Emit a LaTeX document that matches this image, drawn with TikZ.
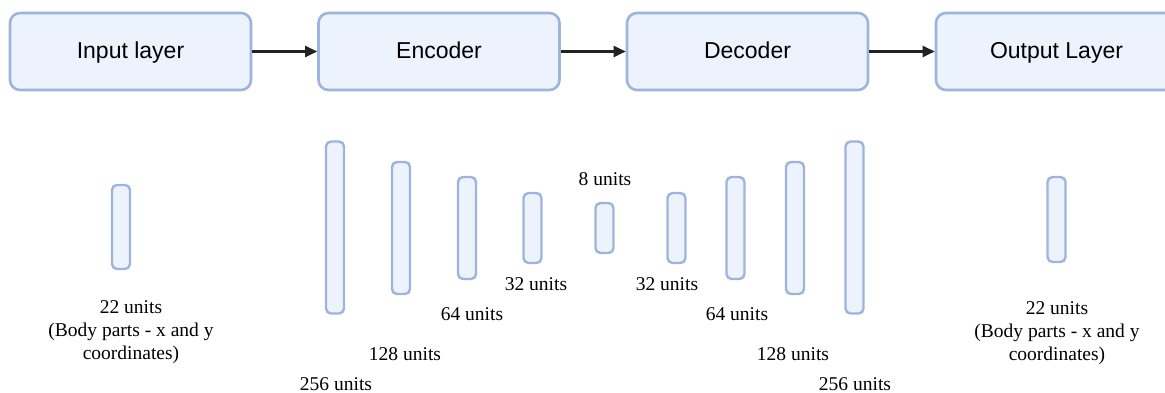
\documentclass[tikz,border=0pt]{standalone}
\usepackage{fontspec}
\setmainfont{Liberation Serif}
\newfontfamily\boxfont{Liberation Sans}
\usetikzlibrary{arrows.meta}
\definecolor{edgeblue}{HTML}{9DB4DD}
\definecolor{fillblue}{HTML}{EDF3FC}
\definecolor{arrowgray}{HTML}{222222}
\tikzset{
  stagebox/.style={draw=edgeblue, fill=fillblue, line width=2.6pt, rounded corners=10pt,
    minimum width=241pt, minimum height=77pt, inner sep=0pt,
    text height=17.5pt, text depth=2.5pt,
    font=\boxfont\fontsize{23}{27}\selectfont},
  unitbar/.style={draw=edgeblue, fill=fillblue, line width=2.4pt, rounded corners=5pt,
    minimum width=18pt, inner sep=0pt},
  unitlabel/.style={inner sep=0pt, align=center, font=\fontsize{19.5}{23}\selectfont},
  flow/.style={draw=arrowgray, line width=2.4pt, -{Triangle[length=12pt,width=11pt]}}
}
\begin{document}
\begin{tikzpicture}[x=1pt,y=-1pt]
\useasboundingbox (0,0) rectangle (1165,393);

% stages
\node[stagebox] (inp) at (130.5,51.5) {Input layer};
\node[stagebox] (enc) at (439,51.5) {Encoder};
\node[stagebox] (dec) at (747.5,51.5) {Decoder};
\node[stagebox] (out) at (1056.5,51.5) {Output Layer};

\draw[flow] (inp) -- (enc);
\draw[flow] (enc) -- (dec);
\draw[flow] (dec) -- (out);

% layer bars (centre, height)
\node[unitbar, minimum height=84pt]  (bin)  at (121,227) {};
\node[unitbar, minimum height=172pt] (e256) at (335,227.5) {};
\node[unitbar, minimum height=132pt] (e128) at (401,228) {};
\node[unitbar, minimum height=102pt] (e64)  at (467,228) {};
\node[unitbar, minimum height=70pt]  (e32)  at (532.5,228) {};
\node[unitbar, minimum height=50pt]  (lat)  at (604.5,228) {};
\node[unitbar, minimum height=70pt]  (d32)  at (676.5,228) {};
\node[unitbar, minimum height=102pt] (d64)  at (735.5,228) {};
\node[unitbar, minimum height=132pt] (d128) at (795,228) {};
\node[unitbar, minimum height=172pt] (d256) at (854.5,227.5) {};
\node[unitbar, minimum height=85pt]  (bout) at (1056.5,219.5) {};

% labels
\node[unitlabel, anchor=north] (lin) at (131,300) {22 units\\(Body parts - x and y\\coordinates)};
\node[unitlabel] (le256) at (336,384) {256 units};
\node[unitlabel] (le128) at (405,354) {128 units};
\node[unitlabel] (le64)  at (472,314) {64 units};
\node[unitlabel] (le32)  at (536,284) {32 units};
\node[unitlabel] (llat)  at (605,179) {8 units};
\node[unitlabel] (ld32)  at (667,284) {32 units};
\node[unitlabel] (ld64)  at (737,314) {64 units};
\node[unitlabel] (ld128) at (793,354) {128 units};
\node[unitlabel] (ld256) at (855,384) {256 units};
\node[unitlabel, anchor=north] (lout) at (1057,301) {22 units\\(Body parts - x and y\\coordinates)};
\end{tikzpicture}
\end{document}
